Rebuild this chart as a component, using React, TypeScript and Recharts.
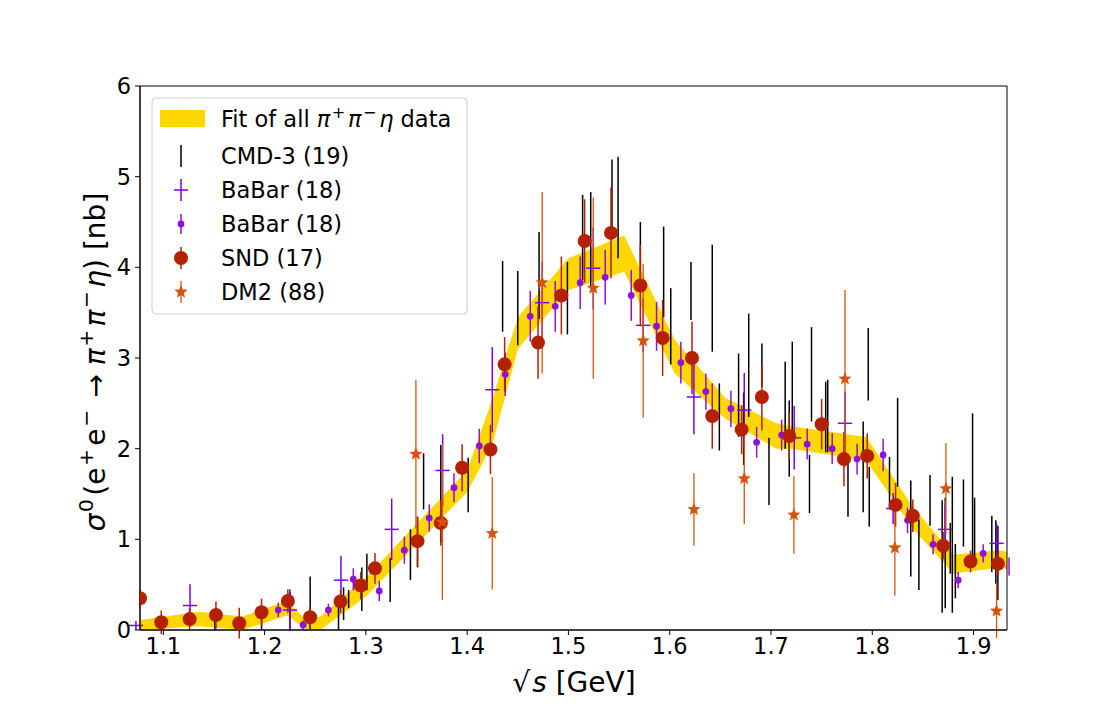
import React from 'react';
import {
  ComposedChart,
  Area,
  Scatter,
  ErrorBar,
  XAxis,
  YAxis,
  ReferenceArea,
} from 'recharts';

const X_MIN = 1.077;
const X_MAX = 1.933;

const xTicks = [1.1, 1.2, 1.3, 1.4, 1.5, 1.6, 1.7, 1.8, 1.9];
const yTicks = [0, 1, 2, 3, 4, 5, 6];

// fit band: [sqrt(s), low, high]
const bandPts = [
  [1.077, 0.0, 0.11],
  [1.135, 0.04, 0.2],
  [1.178, 0.0, 0.15],
  [1.222, 0.16, 0.32],
  [1.242, 0.0, 0.1],
  [1.255, 0.0, 0.15],
  [1.3, 0.37, 0.58],
  [1.4, 1.52, 1.76],
  [1.425, 2.05, 2.55],
  [1.45, 3.1, 3.45],
  [1.5, 3.75, 4.1],
  [1.555, 3.95, 4.35],
  [1.605, 2.83, 3.2],
  [1.655, 2.33, 2.56],
  [1.705, 2.0, 2.28],
  [1.72, 2.0, 2.25],
  [1.794, 1.87, 2.13],
  [1.84, 1.12, 1.36],
  [1.88, 0.62, 0.83],
  [1.925, 0.69, 0.88],
  [1.934, 0.67, 0.86],
];

// [sqrt(s), sigma, error]
const cmd3Pts = [
  [1.151, 0.07, 0.07], [1.197, 0.11, 0.11], [1.225, 0.21, 0.21], [1.245, 0.3, 0.29],
  [1.273, 0.14, 0.14], [1.278, 0.29, 0.18], [1.283, 0.34, 0.1], [1.296, 0.45, 0.24],
  [1.301, 0.64, 0.2], [1.324, 0.55, 0.24], [1.344, 0.83, 0.28], [1.351, 0.97, 0.28],
  [1.357, 1.64, 0.31], [1.374, 1.5, 0.54], [1.401, 1.6, 0.3], [1.435, 3.68, 0.39],
  [1.45, 3.55, 0.41], [1.471, 3.91, 0.48], [1.499, 3.66, 0.4], [1.514, 4.33, 0.47],
  [1.522, 4.31, 0.52], [1.543, 4.76, 0.43], [1.549, 4.66, 0.56], [1.571, 4.16, 0.34],
  [1.594, 3.95, 0.5], [1.601, 3.35, 0.42], [1.621, 3.74, 0.32], [1.642, 3.66, 0.59],
  [1.649, 2.35, 0.37], [1.668, 2.59, 0.46], [1.673, 2.22, 0.4], [1.678, 2.92, 0.57],
  [1.691, 2.92, 0.24], [1.698, 1.75, 0.37], [1.714, 2.48, 0.48], [1.718, 2.11, 0.42],
  [1.721, 2.66, 0.52], [1.738, 1.61, 0.32], [1.74, 2.82, 0.52], [1.754, 2.35, 0.39],
  [1.756, 2.36, 0.4], [1.776, 1.56, 0.31], [1.791, 1.8, 0.5], [1.796, 2.93, 0.4],
  [1.797, 1.47, 0.33], [1.817, 1.62, 0.29], [1.825, 2.07, 0.49], [1.838, 1.12, 0.53],
  [1.846, 0.83, 0.39], [1.857, 1.43, 0.28], [1.869, 0.81, 0.62], [1.872, 0.85, 0.61],
  [1.877, 0.9, 0.28], [1.879, 0.94, 0.75], [1.882, 0.65, 0.3], [1.89, 1.29, 0.37],
  [1.899, 1.58, 0.81], [1.901, 1.08, 0.38], [1.918, 0.95, 0.31], [1.922, 0.86, 0.35],
  [1.924, 0.74, 0.41],
];

// [sqrt(s), sigma, y error, x error]
const babarCrossPts = [
  [1.073, 0.05, 0.05, 0.007], [1.1264, 0.27, 0.235, 0.007], [1.225, 0.22, 0.23, 0.007],
  [1.2754, 0.55, 0.27, 0.007], [1.3255, 1.11, 0.34, 0.007], [1.3758, 1.76, 0.4, 0.007],
  [1.4248, 2.65, 0.47, 0.007], [1.4741, 3.61, 0.45, 0.007], [1.5245, 3.99, 0.45, 0.007],
  [1.5738, 3.36, 0.3, 0.007], [1.6239, 2.57, 0.41, 0.007], [1.6736, 2.425, 0.41, 0.007],
  [1.7229, 2.12, 0.35, 0.007], [1.773, 2.28, 0.35, 0.007], [1.8206, 1.34, 0.17, 0.007],
  [1.872, 1.11, 0.26, 0.007], [1.9227, 0.956, 0.22, 0.007],
];

const babarDotPts = [
  [1.2135, 0.22, 0.08], [1.238, 0.055, 0.05], [1.263, 0.22, 0.07], [1.2876, 0.56, 0.12],
  [1.3132, 0.43, 0.11], [1.338, 0.88, 0.15], [1.3626, 1.235, 0.15], [1.387, 1.57, 0.16],
  [1.412, 2.03, 0.19], [1.4376, 2.82, 0.24], [1.4623, 3.46, 0.28], [1.487, 3.57, 0.28],
  [1.5116, 3.83, 0.29], [1.5363, 3.89, 0.3], [1.562, 3.69, 0.28], [1.587, 3.35, 0.27],
  [1.611, 2.95, 0.23], [1.6357, 2.63, 0.2], [1.6604, 2.44, 0.2], [1.6858, 2.07, 0.17],
  [1.7105, 2.15, 0.17], [1.7357, 2.05, 0.17], [1.7604, 2.0, 0.17], [1.785, 1.885, 0.17],
  [1.8107, 1.93, 0.18], [1.8348, 1.21, 0.14], [1.86, 0.945, 0.11], [1.8848, 0.55, 0.09],
  [1.9095, 0.845, 0.1], [1.935, 0.7, 0.1],
];

const sndPts = [
  [1.077, 0.35, 0.1], [1.098, 0.085, 0.13], [1.126, 0.12, 0.12], [1.152, 0.165, 0.15],
  [1.175, 0.075, 0.17], [1.197, 0.195, 0.15], [1.223, 0.32, 0.13], [1.245, 0.14, 0.12],
  [1.275, 0.315, 0.13], [1.295, 0.49, 0.15], [1.309, 0.68, 0.17], [1.351, 0.98, 0.27],
  [1.374, 1.18, 0.25], [1.395, 1.79, 0.26], [1.423, 1.99, 0.27], [1.437, 2.93, 0.3],
  [1.47, 3.17, 0.4], [1.493, 3.69, 0.43], [1.516, 4.29, 0.46], [1.542, 4.38, 0.5],
  [1.571, 3.8, 0.45], [1.593, 3.22, 0.42], [1.622, 3.0, 0.4], [1.642, 2.36, 0.36],
  [1.671, 2.21, 0.27], [1.691, 2.57, 0.37], [1.718, 2.14, 0.25], [1.75, 2.27, 0.28],
  [1.772, 1.885, 0.3], [1.795, 1.92, 0.25], [1.823, 1.38, 0.24], [1.84, 1.26, 0.18],
  [1.87, 0.93, 0.15], [1.897, 0.755, 0.12], [1.924, 0.73, 0.12],
];

const dm2Pts = [
  [1.3494, 1.94, 0.82], [1.3755, 1.19, 0.86], [1.4248, 1.066, 0.62], [1.4741, 3.83, 1.0],
  [1.5245, 3.77, 1.0], [1.5738, 3.19, 0.85], [1.6239, 1.33, 0.4], [1.6736, 1.67, 0.5],
  [1.7226, 1.27, 0.43], [1.773, 2.77, 0.98], [1.8223, 0.907, 0.53], [1.8727, 1.56, 0.5],
  [1.9227, 0.21, 0.3],
];

const GOLD = '#ffd700';
const SND_RED = '#b52000';
const BABAR_DOT = '#9010dc';
const BABAR_CROSS = '#7a00ff';
const DM2_ORANGE = '#d9540b';
const FONT = 'DejaVu Sans, sans-serif';
const TICK_SIZE = 22.5;
const LABEL_SIZE = 28;

const bandData = bandPts.map(([x, lo, hi]) => ({ x, range: [lo, hi] }));
const toRows = (pts: number[][]) => pts.map(([x, y, err, xerr]) => ({ x, y, err, xerr }));

const starPoints = (cx: number, cy: number, R: number, r: number) => {
  const pts: string[] = [];
  for (let i = 0; i < 10; i++) {
    const rad = i % 2 === 0 ? R : r;
    const a = -Math.PI / 2 + (i * Math.PI) / 5;
    pts.push(`${cx + rad * Math.cos(a)},${cy + rad * Math.sin(a)}`);
  }
  return pts.join(' ');
};

const NoMark = () => <g />;
const SndMark = (p: any) => <circle cx={p.cx} cy={p.cy} r={7} fill={SND_RED} />;
const DotMark = (p: any) => <circle cx={p.cx} cy={p.cy} r={3.4} fill={BABAR_DOT} />;
const StarMark = (p: any) => <polygon points={starPoints(p.cx, p.cy, 7, 3)} fill={DM2_ORANGE} />;

type Seg = { t: string; sup?: boolean; it?: boolean };

// mathtext-like rendering with raised superscripts and a little extra room around them
const renderMath = (segs: Seg[], size: number) => {
  let prevSup = false;
  return segs.map((s, i) => {
    let dy = 0;
    let dx = 0;
    if (s.sup && !prevSup) {
      dy = -0.42 * size;
      dx = 0.06 * size;
    }
    if (!s.sup && prevSup) {
      dy = 0.42 * size;
      dx = 0.12 * size;
    }
    prevSup = !!s.sup;
    return (
      <tspan
        key={i}
        dy={dy || undefined}
        dx={dx || undefined}
        fontSize={s.sup ? size * 0.72 : size}
        fontStyle={s.it ? 'italic' : 'normal'}
      >
        {s.t}
      </tspan>
    );
  });
};

const yLabelSegs: Seg[] = [
  { t: 'σ', it: true },
  { t: '0', sup: true },
  { t: '(e' },
  { t: '+', sup: true },
  { t: 'e' },
  { t: '−', sup: true },
  { t: ' → ' },
  { t: 'π', it: true },
  { t: '+', sup: true },
  { t: 'π', it: true },
  { t: '−', sup: true },
  { t: 'η', it: true },
  { t: ') [nb]' },
];

const legendFitSegs: Seg[] = [
  { t: 'Fit of all ' },
  { t: 'π', it: true },
  { t: '+', sup: true },
  { t: 'π', it: true },
  { t: '−', sup: true },
  { t: 'η', it: true },
  { t: ' data' },
];

const YLabel = () => (
  <text transform="translate(105,362) rotate(-90)" textAnchor="middle" fill="#000" fontFamily={FONT}>
    {renderMath(yLabelSegs, LABEL_SIZE)}
  </text>
);

const XLabel = () => (
  <text x={574} y={692} textAnchor="middle" fill="#000" fontFamily={FONT} fontSize={LABEL_SIZE}>
    <tspan>√</tspan>
    <tspan fontStyle="italic" dx={2}>s</tspan>
    <tspan> [GeV]</tspan>
  </text>
);

const LegendBox = () => {
  const tx = 70;
  const ix = 30;
  const rows = ['CMD-3 (19)', 'BaBar (18)', 'BaBar (18)', 'SND (17)', 'DM2 (88)'];
  const rowY = [59, 93, 127, 161, 195];
  return (
    <svg
      width={318}
      height={220}
      style={{ position: 'absolute', left: 151, top: 97 }}
      fontFamily={FONT}
    >
      <rect x={1} y={1} width={315} height={216} rx={4} fill="rgba(255,255,255,0.8)" stroke="#cccccc" />
      <rect x={9} y={13} width={45} height={17} fill={GOLD} />
      <text x={tx} y={30} fill="#000">{renderMath(legendFitSegs, TICK_SIZE)}</text>
      {/* CMD-3 */}
      <line x1={ix} x2={ix} y1={rowY[0] - 11} y2={rowY[0] + 11} stroke="#000" strokeWidth={1.5} />
      {/* BaBar cross */}
      <line x1={ix} x2={ix} y1={rowY[1] - 11} y2={rowY[1] + 11} stroke={BABAR_CROSS} strokeWidth={1.5} />
      <line x1={ix - 7} x2={ix + 7} y1={rowY[1]} y2={rowY[1]} stroke={BABAR_CROSS} strokeWidth={1.5} />
      {/* BaBar dot */}
      <line x1={ix} x2={ix} y1={rowY[2] - 10} y2={rowY[2] + 10} stroke={BABAR_DOT} strokeWidth={1.5} />
      <circle cx={ix} cy={rowY[2]} r={3.4} fill={BABAR_DOT} />
      {/* SND */}
      <line x1={ix} x2={ix} y1={rowY[3] - 11} y2={rowY[3] + 11} stroke={SND_RED} strokeWidth={1.5} />
      <circle cx={ix} cy={rowY[3]} r={7} fill={SND_RED} />
      {/* DM2 */}
      <line x1={ix} x2={ix} y1={rowY[4] - 11} y2={rowY[4] + 11} stroke={DM2_ORANGE} strokeWidth={1.3} />
      <polygon points={starPoints(ix, rowY[4], 7, 3)} fill={DM2_ORANGE} />
      {rows.map((r, i) => (
        <text key={i} x={tx} y={rowY[i] + 8} fontSize={TICK_SIZE} fill="#000">
          {r}
        </text>
      ))}
    </svg>
  );
};

const tickStyle = { fontSize: TICK_SIZE, fill: '#000', fontFamily: FONT };

export default function App() {
  return (
    <div style={{ position: 'absolute', left: 0, top: 0, width: 1120, height: 720, background: '#fff' }}>
      <ComposedChart
        width={1120}
        height={720}
        data={bandData}
        margin={{ top: 86, right: 113, bottom: 0, left: 0 }}
      >
        <XAxis
          type="number"
          dataKey="x"
          domain={[X_MIN, X_MAX]}
          ticks={xTicks}
          interval={0}
          allowDataOverflow
          tickFormatter={(v: number) => v.toFixed(1)}
          tick={tickStyle}
          tickSize={5}
          tickMargin={3}
          stroke="#000"
          height={90}
        />
        <YAxis
          type="number"
          domain={[0, 6]}
          ticks={yTicks}
          interval={0}
          allowDataOverflow
          tick={tickStyle}
          tickSize={5}
          tickMargin={4}
          stroke="#000"
          width={140}
        />
        <Area
          dataKey="range"
          type="linear"
          fill={GOLD}
          fillOpacity={1}
          stroke="none"
          isAnimationActive={false}
          activeDot={false}
        />
        <Scatter data={toRows(cmd3Pts)} dataKey="y" shape={NoMark} isAnimationActive={false}>
          <ErrorBar dataKey="err" direction="y" width={0} stroke="#000" strokeWidth={1.5} />
        </Scatter>
        <Scatter data={toRows(babarCrossPts)} dataKey="y" shape={NoMark} isAnimationActive={false}>
          <ErrorBar dataKey="err" direction="y" width={0} stroke={BABAR_CROSS} strokeWidth={1.5} />
          <ErrorBar dataKey="xerr" direction="x" width={0} stroke={BABAR_CROSS} strokeWidth={1.5} />
        </Scatter>
        <Scatter data={toRows(babarDotPts)} dataKey="y" shape={DotMark} isAnimationActive={false}>
          <ErrorBar dataKey="err" direction="y" width={0} stroke={BABAR_DOT} strokeWidth={1.5} />
        </Scatter>
        <Scatter data={toRows(sndPts)} dataKey="y" shape={SndMark} isAnimationActive={false}>
          <ErrorBar dataKey="err" direction="y" width={0} stroke={SND_RED} strokeWidth={1.5} />
        </Scatter>
        <Scatter data={toRows(dm2Pts)} dataKey="y" shape={StarMark} isAnimationActive={false}>
          <ErrorBar dataKey="err" direction="y" width={0} stroke={DM2_ORANGE} strokeWidth={1.3} />
        </Scatter>
        <ReferenceArea x1={X_MIN} x2={X_MAX} y1={0} y2={6} fill="none" stroke="#000" strokeWidth={1} />
        <YLabel />
        <XLabel />
      </ComposedChart>
      <LegendBox />
    </div>
  );
}
